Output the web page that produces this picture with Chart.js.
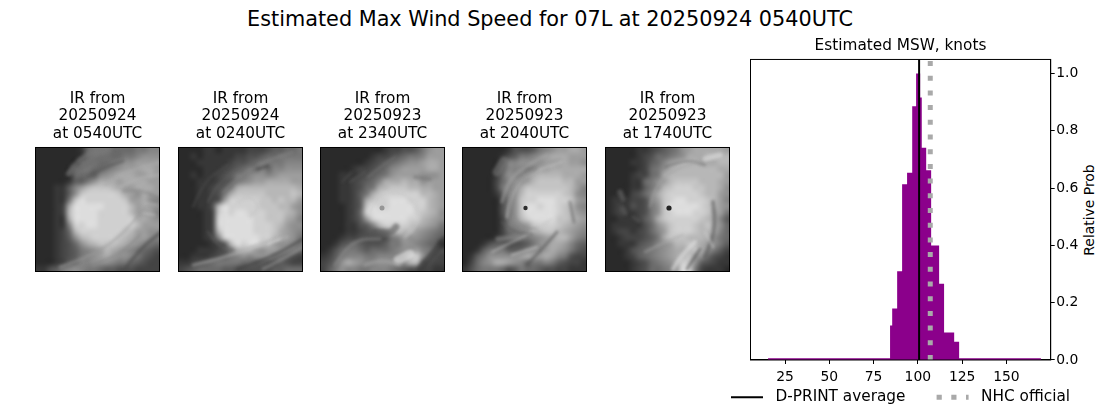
<!DOCTYPE html>
<html><head><meta charset="utf-8">
<script src="https://cdn.jsdelivr.net/npm/chart.js@4"></script>
<style>
html,body{margin:0;padding:0;background:#fff;width:1100px;height:409px;overflow:hidden;font-family:"DejaVu Sans",sans-serif}
canvas{position:absolute}
#title{position:absolute;left:0;width:1100px;top:7px;text-align:center;font-size:20.8px;line-height:24px;color:#000}
#ylab{position:absolute;left:1039px;top:202px;width:100px;text-align:center;font-size:13.9px;line-height:16px;transform:rotate(-90deg);color:#000;white-space:nowrap}
</style></head><body>
<div id="title">Estimated Max Wind Speed for 07L at 20250924 0540UTC</div>
<div id="ylab">Relative Prob</div>
<canvas id="p0"></canvas><canvas id="p1"></canvas><canvas id="p2"></canvas><canvas id="p3"></canvas><canvas id="p4"></canvas>
<canvas id="hist"></canvas>
<script>
// ---- histogram values ----
const binEdges  = [15.4,84.3,85.5,88.3,91.1,93.9,96.8,99.0,101.3,102.2,104.7,107.5,112.0,114.8,120.5,123.3,169.5];
const binHeight = [0.006,0.12,0.18,0.31,0.613,0.654,0.886,1.0,0.916,0.741,0.662,0.40,0.266,0.096,0.064,0.006];
const dprintAverage = 100.7;
const nhcOfficial = 107;
const xTicks = [25,50,75,100,125,150];
const yTicks = [0,0.2,0.4,0.6,0.8,1.0];
// ---- image panels ----
const panelDates = ["20250924","20250924","20250923","20250923","20250923"];
const panelTimes = ["0540UTC","0240UTC","2340UTC","2040UTC","1740UTC"];
const panelLefts = [35,178,320,462,605];
// coarse brightness grids (hex digit per cell)
const ir0 = ["00000001566655556677","00000001566655667888","00000005665567889999","00000056655678999aa9","0000005554789aaa99a9","0000014468aaa9aaaa99","00011479bcccba99aaa9","0001148cdddddca98a99","000116ceddddddc99a87","00012aeeeeeddddb9a98","00012beeeedddddb9997","00011aeeeeddddddaa98","000117ddeeddddddb999","000125bdddddddcb9988","0001248bcddddcba9987","00012358abcccba98765","00012346789ba9876543","00012346789a98876432","00012457788876654322","11346787665443332222"];
const ir1 = ["00001101111222344556","00101111122334556666","00011111233456666777","00001112345657577888","00101123466788789999","00011123467899aaaa99","000112346abbbbbbbbba","00011236acccccbbbbcb","00011239dddddccbcbb9","000113bedddddcccbb98","000012cedeedddcccba8","000012deeeeeddccca97","000012deeeeedddcb988","000012beeeeedddca987","0000127deeeeeddba986","00000124bedeecb98876","000111236abb98998765","00111234678788865432","11234566665544334322","23455554433333344555"];
const ir2 = ["00000000001223346899","00000000122345667999","00000001234567889aa9","00000122345789999aa9","00011123456899998889","0001123457aaabaa8999","000112356abcccbbaa99","00011246acddddddbba9","0001124acddeeedddba9","0000124ceddeeeeddba9","0000125deeeeeeedcba8","00001249deeeeeddba98","000011347bddddcba986","00001123468bcbb98765","00012233333679887654","00134543334668876540","01356654555678897643","12467776677778bd8532","2358a987788888bb4322","24687766777654332211"];
const ir3 = ["00000001333467899aa9","00000013466789aaa999","0000002778888999a998","00000047776799aaaaaa","00000158778abbbbaaa9","00000257889bccccbb99","000002678acccccccb97","000001478bddddddcb87","000000368cddeeeddc98","000000368ceedeedcb87","000000368ceeeeedcb98","000000268bdeeeeccba9","00000026789cdddcba98","00000025678abccba987","00000124566789abb976","00013443334689aa9754","00146664457889a98643","0146888889a99a976322","02578aa9875667643221","13566653465543322111"];
const ir4 = ["00000112345689aaaaa9","0000012355678aaabbbb","00001124579abbbaaabb","0000012568abbbbbbbaa","000012256abbbbbbbbb9","0000115689bccccbbba9","000011468bcdddccbba8","00102357acdddddcbb98","011122379cdeedddcb97","012132368ceeeeedcb98","012112368cdeeeddca96","00111246acdddddcba74","011111358acdddcbca85","0122123579cdddcbba75","001222346acccbbba865","00111345789bbcba9864","00013456789aabca8642","00012456789abc985321","00001235678adc843211","000012355679ed621110"];
const irGrids = [ir0,ir1,ir2,ir3,ir4];
// cloud bands seen in each picture: points in image pixels, grey level, width
const irBands = [
 [{p:[[33,27],[45,8],[75,3]],v:118,w:5},{p:[[36,26],[60,12],[80,8]],v:105,w:6},{p:[[52,30],[70,20],[88,14]],v:85,w:3},{p:[[70,38],[90,25],[125,15]],v:172,w:3},{p:[[85,40],[105,30],[125,28]],v:178,w:3},{p:[[88,44],[105,42],[125,52]],v:130,w:2},{p:[[25,120],[60,108],[90,85],[110,60]],v:155,w:2.5},{p:[[40,123],[80,112],[105,88]],v:130,w:2},{p:[[90,122],[105,102],[125,86]],v:72,w:4},{p:[[108,66],[120,68]],v:215,w:1.5},{p:[[110,56],[122,58]],v:190,w:1.5}],
 [{p:[[45,45],[60,30],[85,15],[115,5]],v:135,w:2},{p:[[80,22],[90,19]],v:62,w:3},{p:[[15,118],[50,110],[80,97],[110,90]],v:178,w:2.5},{p:[[85,122],[105,112],[125,100]],v:155,w:3},{p:[[60,122],[90,112],[125,92]],v:60,w:3},{p:[[30,85],[40,100],[55,103]],v:98,w:2},{p:[[15,60],[25,35],[50,18]],v:82,w:2},{p:[[30,55],[38,38],[60,22]],v:95,w:2},{p:[[60,55],[72,48],[82,60],[72,70]],v:190,w:1.5},{p:[[90,97],[102,92]],v:225,w:2}],
 [{p:[[50,65],[57,50],[75,42],[95,55],[100,75],[85,90]],v:198,w:2},{p:[[55,85],[70,87],[76,80]],v:78,w:7},{p:[[15,118],[25,102],[40,92],[60,92]],v:142,w:2.5},{p:[[78,113],[90,107]],v:238,w:9},{p:[[48,30],[60,20],[75,10]],v:122,w:2},{p:[[22,35],[32,25]],v:88,w:1.5},{p:[[30,35],[45,25]],v:95,w:2},{p:[[95,30],[110,32]],v:115,w:4},{p:[[45,118],[60,112],[80,118]],v:165,w:3},{p:[[100,122],[115,105],[125,92]],v:55,w:7}],
 [{p:[[40,55],[45,35],[62,20],[85,8]],v:168,w:3},{p:[[45,70],[50,40],[70,25],[100,15]],v:192,w:3},{p:[[48,70],[47,50],[55,35],[75,22]],v:112,w:1.5},{p:[[52,70],[60,82],[75,82]],v:135,w:2},{p:[[30,105],[50,95],[70,85],[90,72]],v:195,w:2},{p:[[65,118],[80,102],[95,85]],v:82,w:3},{p:[[40,75],[50,85],[70,87]],v:92,w:2},{p:[[35,25],[42,14]],v:122,w:9},{p:[[36,92],[55,90]],v:140,w:5},{p:[[108,55],[112,75]],v:100,w:3},{p:[[50,108],[75,100]],v:215,w:2}],
 [{p:[[15,45],[18,52]],v:102,w:5},{p:[[18,62],[20,66]],v:92,w:5},{p:[[28,70],[34,74]],v:88,w:3},{p:[[68,122],[75,110],[90,95]],v:228,w:4},{p:[[100,12],[115,8]],v:222,w:5},{p:[[60,20],[80,12],[100,18]],v:98,w:2},{p:[[45,60],[50,38],[70,22],[95,15]],v:162,w:2},{p:[[108,55],[112,80],[100,110]],v:85,w:4},{p:[[82,122],[95,102]],v:70,w:3},{p:[[40,105],[60,95],[78,88]],v:170,w:2},{p:[[100,85],[108,100]],v:205,w:2.5}]
];
// eye position, radius and grey in image pixels
const irEyes = [null,null,[62,61,2.5,150],[63.5,61,2.2,45],[64,61,2.6,35]];

function gridCanvas(g){
  const n=g.length,c=document.createElement('canvas');c.width=c.height=n;
  const x=c.getContext('2d'),im=x.createImageData(n,n);
  for(let r=0;r<n;r++)for(let k=0;k<n;k++){
    const ch=g[r][k]||g[r][g[r].length-1];
    const v=42+parseInt(ch,16)*12.8,i=(r*n+k)*4;
    im.data[i]=im.data[i+1]=im.data[i+2]=v;im.data[i+3]=255;
  }
  x.putImageData(im,0,0);return c;
}
Chart.defaults.font.family='"DejaVu Sans"';
Chart.defaults.color='#000';
Chart.defaults.animation=false;

const imagePlugin={id:'irImage',beforeDatasetsDraw(ch,a,o){
  const {left,top,width,height}=ch.chartArea,x=ch.ctx;
  x.save();x.beginPath();x.rect(left,top,width,height);x.clip();
  x.imageSmoothingEnabled=true;x.imageSmoothingQuality='high';
  x.drawImage(gridCanvas(irGrids[o.i]),left,top,width,height);
  x.translate(left,top);x.filter='blur(1.8px)';x.lineCap='round';x.lineJoin='round';
  irBands[o.i].forEach(b=>{
    x.strokeStyle=`rgb(${b.v},${b.v},${b.v})`;x.lineWidth=b.w;x.globalAlpha=.55;x.beginPath();
    x.moveTo(b.p[0][0],b.p[0][1]);
    for(let k=1;k<b.p.length-1;k++){const m=[(b.p[k][0]+b.p[k+1][0])/2,(b.p[k][1]+b.p[k+1][1])/2];x.quadraticCurveTo(b.p[k][0],b.p[k][1],m[0],m[1]);}
    const z=b.p[b.p.length-1];x.lineTo(z[0],z[1]);x.stroke();
  });
  x.globalAlpha=1;x.filter='blur(.6px)';
  const e=irEyes[o.i];
  if(e){x.fillStyle=`rgb(${e[3]},${e[3]},${e[3]})`;x.beginPath();x.arc(e[0],e[1],e[2],0,7);x.fill();}
  x.restore();
  x.save();x.strokeStyle='#000';x.lineWidth=1;x.strokeRect(left+.5,top+.5,width-1,height-1);x.restore();
}};
panelLefts.forEach((l,i)=>{
  const cv=document.getElementById('p'+i);
  cv.style.left=(l-10)+'px';cv.style.top='80px';cv.width=145;cv.height=200;
  cv.style.width='145px';cv.style.height='200px';
  new Chart(cv,{type:'scatter',plugins:[imagePlugin],data:{datasets:[{data:[]}]},
    options:{responsive:false,layout:{padding:{left:10,right:10,top:0,bottom:8}},
      scales:{x:{display:false,min:0,max:1},y:{display:false,min:0,max:1}},
      plugins:{legend:{display:false},tooltip:{enabled:false},irImage:{i},
        title:{display:true,text:['IR from',panelDates[i],'at '+panelTimes[i]],font:{size:15.3,weight:'normal',lineHeight:1.15},padding:{top:10,bottom:4.2}}}}});
});

const histPts=[];
binHeight.forEach((h,i)=>{histPts.push({x:binEdges[i],y:h});});
histPts.push({x:binEdges[binEdges.length-1],y:binHeight[binHeight.length-1]});
const frame={id:'frame',afterDraw(ch){const {left,top,width,height}=ch.chartArea,x=ch.ctx;
  x.save();x.strokeStyle='#000';x.lineWidth=1;x.strokeRect(left,top,width,height);x.restore();}};
const hc=document.getElementById('hist');
hc.style.left='701px';hc.style.top='0';hc.width=399;hc.height=409;hc.style.width='399px';hc.style.height='409px';
new Chart(hc,{type:'scatter',plugins:[frame],data:{datasets:[
  {label:'hist',data:histPts,showLine:true,stepped:'before',fill:'origin',backgroundColor:'#8b008b',borderWidth:0,pointRadius:0,order:3},
  {label:'D-PRINT average',data:[{x:dprintAverage,y:0},{x:dprintAverage,y:1.05}],showLine:true,borderColor:'#000',borderWidth:2,pointRadius:0,order:1},
  {label:'NHC official',data:[{x:nhcOfficial,y:0},{x:nhcOfficial,y:1.05}],showLine:true,borderColor:'#a9a9a9',borderWidth:5,borderDash:[5,9.7],pointRadius:0,order:2}
]},options:{responsive:false,
  layout:{padding:{bottom:-5.8}},
  scales:{
    x:{type:'linear',min:5.5,max:175,afterBuildTicks(s){s.ticks=xTicks.map(v=>({value:v}));},
      grid:{drawOnChartArea:false,tickLength:4,color:'#000',lineWidth:1},border:{color:'#000'},
      ticks:{font:{size:13.9},autoSkip:false,maxRotation:0,padding:5},afterFit(s){s.height=27.5;}},
    y:{type:'linear',position:'right',min:0,max:1.049,afterBuildTicks(s){s.ticks=yTicks.map(v=>({value:v}));},
      grid:{drawOnChartArea:false,tickLength:4,color:'#000',lineWidth:1},border:{color:'#000'},
      ticks:{font:{size:13.9},padding:1.5,callback:v=>v.toFixed(1)},afterFit(s){s.width=49.3;}},
    balance:{type:'linear',position:'left',grid:{display:false},border:{display:false},ticks:{display:false},afterFit(s){s.width=49.5;}}
  },
  plugins:{tooltip:{enabled:false},
    title:{display:true,text:'Estimated MSW, knots',font:{size:15.3,weight:'normal'},padding:{top:37,bottom:4.1},position:'top'},
    legend:{position:'bottom',labels:{boxWidth:32,boxHeight:0,padding:2,font:{size:15.3},
      filter:it=>it.text.trim()!=='hist',
      generateLabels(ch){return Chart.defaults.plugins.legend.labels.generateLabels(ch).map(l=>{l.text=(l.text==='D-PRINT average')?' D-PRINT average      ':' '+l.text;return l;});}}}
  }}});
</script></body></html>
